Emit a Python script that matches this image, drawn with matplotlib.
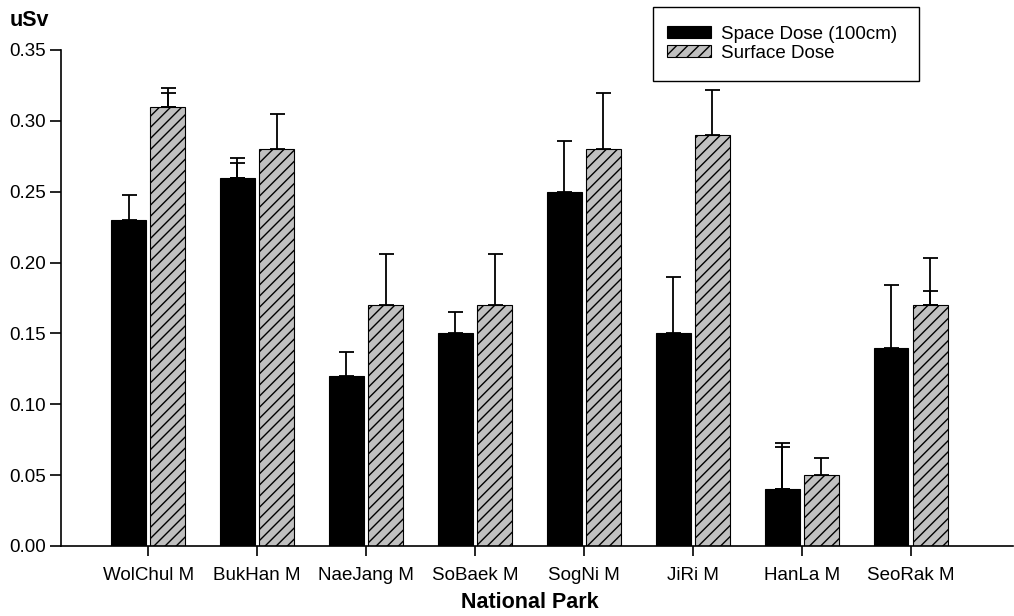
import matplotlib
matplotlib.use("Agg")
import matplotlib.pyplot as plt
import numpy as np
from matplotlib.patches import Rectangle

plt.rcParams['font.family'] = ['Liberation Sans', 'DejaVu Sans']
plt.rcParams['hatch.linewidth'] = 1.0

parks = ["WolChul M", "BukHan M", "NaeJang M", "SoBaek M", "SogNi M", "JiRi M", "HanLa M", "SeoRak M"]
space_dose = [0.23, 0.26, 0.12, 0.15, 0.25, 0.15, 0.04, 0.14]
space_err = [0.018, 0.014, 0.017, 0.015, 0.036, 0.040, 0.033, 0.044]
space_err2 = [np.nan, 0.010, np.nan, np.nan, np.nan, np.nan, 0.030, np.nan]
surface_dose = [0.31, 0.28, 0.17, 0.17, 0.28, 0.29, 0.05, 0.17]
surface_err = [0.013, 0.025, 0.036, 0.036, 0.040, 0.032, 0.012, 0.033]
surface_err2 = [0.010, np.nan, np.nan, np.nan, np.nan, np.nan, np.nan, 0.010]
yticks = [0.00, 0.05, 0.10, 0.15, 0.20, 0.25, 0.30, 0.35]

W, H = 1014, 616
fig = plt.figure(figsize=(W / 100, H / 100), dpi=100)
ax = fig.add_axes([61 / W, (H - 546) / H, (1013 - 61) / W, (546 - 50) / H])

x = np.arange(len(parks))
bw = 0.32
off = 0.18

b1 = ax.bar(x - off, space_dose, bw, color='black', edgecolor='black', linewidth=0.8,
            label='Space Dose (100cm)', zorder=2)
b2 = ax.bar(x + off, surface_dose, bw, color='#c0c0c0', edgecolor='black', linewidth=0.8,
            hatch='///', label='Surface Dose', zorder=2)

ekw = dict(fmt='none', ecolor='black', elinewidth=1.3, capsize=5.4, capthick=1.3, zorder=3)
ax.errorbar(x - off, space_dose, yerr=[np.zeros(len(x)), space_err], **ekw)
ax.errorbar(x + off, surface_dose, yerr=[np.zeros(len(x)), surface_err], **ekw)
s2 = np.array(space_err2)
m = ~np.isnan(s2)
ax.errorbar((x - off)[m], np.array(space_dose)[m], yerr=[np.zeros(m.sum()), s2[m]], **ekw)
f2 = np.array(surface_err2)
m = ~np.isnan(f2)
ax.errorbar((x + off)[m], np.array(surface_dose)[m], yerr=[np.zeros(m.sum()), f2[m]], **ekw)

ax.set_xlim(-0.80, 7.94)
ax.set_ylim(0, 0.35)
ax.set_yticks(yticks)
ax.set_yticklabels([f"{v:.2f}" for v in yticks], fontsize=13.5)
ax.set_xticks(x)
ax.set_xticklabels(parks, fontsize=13.5)
ax.tick_params(axis='y', length=8, width=1.2, direction='out', pad=3)
ax.tick_params(axis='x', length=7, width=1.2, direction='out', pad=8)
for s in ['top', 'right']:
    ax.spines[s].set_visible(False)
for s in ['left', 'bottom']:
    ax.spines[s].set_linewidth(1.2)

fig.text(530 / W, 1 - 602 / H, "National Park", ha='center', va='center',
         fontsize=15.5, fontweight='bold')
fig.text(10 / W, 1 - 20 / H, "uSv", ha='left', va='center', fontsize=15.5, fontweight='bold')

# legend box
fig.patches.append(Rectangle((653 / W, 1 - 81 / H), (919 - 653) / W, (81 - 7) / H,
                             transform=fig.transFigure, fill=False, edgecolor='black',
                             linewidth=1.0, zorder=5))
leg = fig.legend(handles=[b1, b2], loc='upper left', bbox_to_anchor=(663 / W, 1 - 22 / H),
                 frameon=False, fontsize=13.5, handlelength=2.35, handleheight=0.6,
                 handletextpad=0.55, labelspacing=0.1, borderpad=0.2, borderaxespad=0)

fig.savefig("out.png", dpi=100)
